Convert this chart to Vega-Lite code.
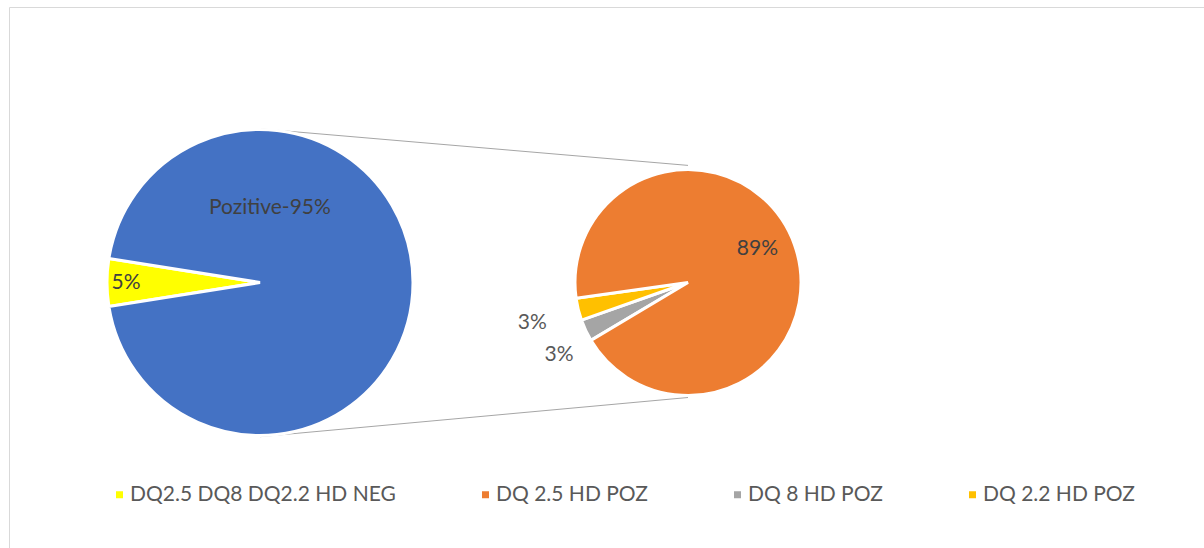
{
  "$schema": "https://vega.github.io/schema/vega-lite/v6.json",
  "width": 1195,
  "height": 541,
  "autosize": {"type": "none"},
  "padding": {"left": 9, "top": 7, "right": 0, "bottom": 0},
  "background": "white",
  "config": {
    "view": {"stroke": "#D9D9D9", "strokeWidth": 1},
    "font": "Lato",
    "legend": {
      "orient": "none",
      "legendX": 100,
      "legendY": 477,
      "direction": "horizontal",
      "columns": 4,
      "columnPadding": 79,
      "symbolType": "square",
      "symbolSize": 49,
      "symbolStrokeWidth": 0,
      "labelFont": "Lato",
      "labelFontSize": 21,
      "labelColor": "#595959",
      "labelOffset": 0,
      "labelLimit": 400,
      "title": null
    }
  },
  "datasets": {
    "slices": [
      {"pie": "main", "group": "DQ2.5 DQ8 DQ2.2 HD NEG", "value": 5, "label": "5%"},
      {"pie": "main", "group": "Pozitive", "value": 95, "label": "Pozitive-95%"},
      {"pie": "detail", "group": "DQ 8 HD POZ", "value": 3, "label": "3%"},
      {"pie": "detail", "group": "DQ 2.2 HD POZ", "value": 3, "label": "3%"},
      {"pie": "detail", "group": "DQ 2.5 HD POZ", "value": 89, "label": "89%"}
    ],
    "pies": [{"pie": "main"}, {"pie": "detail"}]
  },
  "layer": [
    {
      "data": {"name": "pies"},
      "mark": {"type": "line", "stroke": "#A6A6A6", "strokeWidth": 1},
      "encoding": {
        "x": {"field": "pie", "type": "nominal", "sort": null, "scale": {"type": "point", "domain": ["main", "detail"], "range": [251, 679], "padding": 0}, "axis": null},
        "y": {"field": "pie", "type": "nominal", "sort": null, "scale": {"type": "point", "domain": ["main", "detail"], "range": [121.8, 158.4], "padding": 0}, "axis": null}
      }
    },
    {
      "data": {"name": "pies"},
      "mark": {"type": "line", "stroke": "#A6A6A6", "strokeWidth": 1},
      "encoding": {
        "x": {"field": "pie", "type": "nominal", "sort": null, "scale": {"type": "point", "domain": ["main", "detail"], "range": [251, 679], "padding": 0}, "axis": null},
        "y": {"field": "pie", "type": "nominal", "sort": null, "scale": {"type": "point", "domain": ["main", "detail"], "range": [429.7, 390.5], "padding": 0}, "axis": null}
      }
    },
    {
      "data": {"name": "slices"},
      "transform": [{"filter": "datum.pie == 'main'"}],
      "encoding": {
        "x": {"field": "pie", "type": "nominal", "sort": null, "scale": {"type": "point", "domain": ["main", "detail"], "range": [251, 679], "padding": 0}, "axis": null},
        "theta": {"field": "value", "type": "quantitative", "stack": true, "scale": {"range": [4.5553, 10.8385]}},
        "order": {"field": "value", "type": "quantitative", "sort": "ascending"}
      },
      "layer": [
        {
          "mark": {"type": "arc", "radius": 153, "stroke": "white", "strokeWidth": 3, "yOffset": 5},
          "encoding": {
            "color": {
              "field": "group", "type": "nominal",
              "scale": {"domain": ["DQ2.5 DQ8 DQ2.2 HD NEG", "DQ 2.5 HD POZ", "DQ 8 HD POZ", "DQ 2.2 HD POZ", "Pozitive"], "range": ["#FFFF00", "#ED7D31", "#A5A5A5", "#FFC000", "#4472C4"]},
              "legend": {"values": ["DQ2.5 DQ8 DQ2.2 HD NEG", "DQ 2.5 HD POZ", "DQ 8 HD POZ", "DQ 2.2 HD POZ"]}
            }
          }
        },
        {
          "mark": {"type": "text", "radius": 134, "yOffset": 5, "fontSize": 21, "color": "#404040", "align": "center", "baseline": "middle"},
          "encoding": {
            "detail": {"field": "group", "type": "nominal"},
            "text": {"condition": {"test": "datum.value < 50", "field": "label", "type": "nominal"}, "value": ""}
          }
        },
        {
          "mark": {"type": "text", "radius": 75, "thetaOffset": -1.438, "yOffset": 5, "fontSize": 21, "color": "#404040", "align": "center", "baseline": "middle"},
          "encoding": {
            "detail": {"field": "group", "type": "nominal"},
            "text": {"condition": {"test": "datum.value > 50", "field": "label", "type": "nominal"}, "value": ""}
          }
        }
      ]
    },
    {
      "data": {"name": "slices"},
      "transform": [{"filter": "datum.pie == 'detail'"}],
      "encoding": {
        "x": {"field": "pie", "type": "nominal", "sort": null, "scale": {"type": "point", "domain": ["main", "detail"], "range": [251, 679], "padding": 0}, "axis": null},
        "theta": {"field": "value", "type": "quantitative", "stack": true, "scale": {"range": [4.1748, 10.4580]}},
        "order": {"field": "value", "type": "quantitative", "sort": "ascending"}
      },
      "layer": [
        {
          "mark": {"type": "arc", "radius": 113, "stroke": "white", "strokeWidth": 3, "yOffset": 5},
          "encoding": {
            "color": {
              "field": "group", "type": "nominal",
              "scale": {"domain": ["DQ2.5 DQ8 DQ2.2 HD NEG", "DQ 2.5 HD POZ", "DQ 8 HD POZ", "DQ 2.2 HD POZ", "Pozitive"], "range": ["#FFFF00", "#ED7D31", "#A5A5A5", "#FFC000", "#4472C4"]},
              "legend": {"values": ["DQ2.5 DQ8 DQ2.2 HD NEG", "DQ 2.5 HD POZ", "DQ 8 HD POZ", "DQ 2.2 HD POZ"]}
            }
          }
        },
        {
          "mark": {"type": "text", "radius": 77, "thetaOffset": -0.11, "yOffset": 5, "fontSize": 21, "color": "#404040", "align": "center", "baseline": "middle"},
          "encoding": {
            "detail": {"field": "group", "type": "nominal"},
            "text": {"condition": {"test": "datum.value > 50", "field": "label", "type": "nominal"}, "value": ""}
          }
        },
        {
          "mark": {"type": "text", "radius": 161, "thetaOffset": -0.016, "yOffset": 5, "fontSize": 21, "color": "#595959", "align": "center", "baseline": "middle"},
          "encoding": {
            "detail": {"field": "group", "type": "nominal"},
            "text": {"condition": {"test": "datum.group == 'DQ 2.2 HD POZ'", "field": "label", "type": "nominal"}, "value": ""}
          }
        },
        {
          "mark": {"type": "text", "radius": 148, "thetaOffset": -0.075, "yOffset": 5, "fontSize": 21, "color": "#595959", "align": "center", "baseline": "middle"},
          "encoding": {
            "detail": {"field": "group", "type": "nominal"},
            "text": {"condition": {"test": "datum.group == 'DQ 8 HD POZ'", "field": "label", "type": "nominal"}, "value": ""}
          }
        }
      ]
    }
  ],
  "resolve": {"scale": {"y": "independent", "theta": "independent"}}
}
